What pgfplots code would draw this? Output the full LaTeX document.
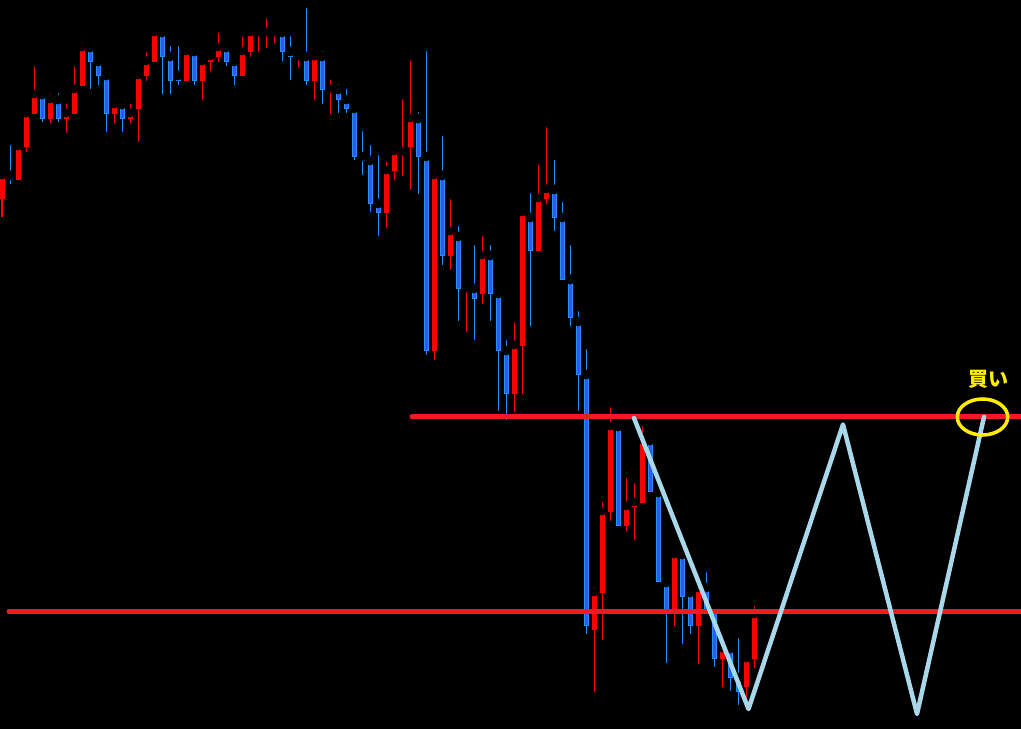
\documentclass[border=0pt]{standalone}
\usepackage{pgfplots}
\usepackage{pgfplotstable}
\pgfplotsset{compat=1.18}
\usepackage{fontspec}
\newfontfamily\cjk{Noto Sans CJK JP}
\definecolor{cred}{RGB}{255,0,0}
\definecolor{cblueb}{RGB}{30,144,255}
\definecolor{cbluef}{RGB}{64,80,255}
\definecolor{lred}{RGB}{237,28,36}
\definecolor{lblue}{RGB}{168,216,234}
\definecolor{cyel}{RGB}{255,238,0}
\pgfplotstableread{
x hi lo top bot
2 175 217 175 199
18 142 180 146 180
26 113 152 113 147
34 62 114 94 114
50 90 123 99 119
66 100 133 113 119
74 62 114 89 114
82 38 86 47 86
114 100 123 104 114
130 100 123 113 119
138 67 142 75 109
146 48 81 61 76
154 29 62 32 62
186 48 81 51 81
202 61 100 61 81
210 52 71 56 62
218 29 62 47 57
242 33 76 51 76
250 29 57 32 52
258 24 52 32 33
266 14 48 32 33
274 29 43 32 33
298 52 67 56 57
314 56 100 56 81
330 76 114 89 90
386 157 228 170 213
394 142 180 151 171
402 95 176 151 152
410 57 190 118 147
434 166 360 175 351
450 195 270 231 256
466 280 332 288 289
482 232 304 255 294
514 318 412 345 394
522 209 394 212 346
538 161 251 198 251
546 123 204 189 199
594 583 692 592 630
602 498 640 511 593
610 403 521 426 512
626 474 531 506 526
634 479 540 502 507
642 422 503 440 503
674 550 626 554 610
698 587 664 588 626
722 648 687 648 659
746 649 700 658 687
754 602 668 614 659
}\redtab
\pgfplotstableread{
x hi lo top bot
10 141 184 175 180
42 94 122 94 119
58 89 122 99 119
90 42 89 47 62
98 61 85 61 76
106 75 132 75 114
122 99 132 104 119
162 32 94 32 57
170 42 94 56 81
178 42 85 75 81
194 51 85 51 81
226 42 66 47 62
234 61 85 61 76
282 32 61 32 52
290 32 80 51 57
306 4 85 56 81
322 47 104 56 90
338 80 113 89 100
346 85 113 99 109
354 104 160 108 157
362 127 175 156 161
370 141 212 160 204
378 151 236 203 213
418 108 194 118 157
426 47 355 156 351
442 132 265 175 256
458 222 321 236 289
474 241 340 288 299
490 241 321 255 294
498 293 411 293 351
506 336 420 350 394
530 189 326 217 251
554 156 231 189 218
562 198 280 217 280
570 241 326 279 318
578 307 411 321 375
586 345 634 374 626
618 426 526 426 526
650 440 492 440 492
658 492 582 492 582
666 582 663 582 612
682 550 644 554 597
690 587 634 592 626
706 568 610 587 610
714 606 667 606 659
730 648 691 648 678
738 634 705 677 692
}\bluetab
\begin{document}
\begin{tikzpicture}
\begin{axis}[x=0.5pt, y=0.5pt, y dir=reverse,
  xmin=0, xmax=1021, ymin=0, ymax=728,
  hide axis, clip=true, set layers=standard]
\fill[black] (axis cs:-5,-5) rectangle (axis cs:1026,733);
% wicks
\addplot[only marks, mark=none, error bars/.cd, y dir=plus, y explicit,
  error mark=none, error bar style={line width=0.5pt, color=cred}]
  table[x=x, y=hi, y error plus expr={\thisrow{lo}-\thisrow{hi}}, y error minus expr=0] {\redtab};
\addplot[only marks, mark=none, error bars/.cd, y dir=plus, y explicit,
  error mark=none, error bar style={line width=0.5pt, color=cblueb}]
  table[x=x, y=hi, y error plus expr={\thisrow{lo}-\thisrow{hi}}, y error minus expr=0] {\bluetab};
% bodies
\addplot[only marks, mark=none, error bars/.cd, y dir=plus, y explicit,
  error mark=none, error bar style={line width=2.5pt, color=cred}]
  table[x=x, y=top, y error plus expr={\thisrow{bot}-\thisrow{top}}, y error minus expr=0] {\redtab};
\addplot[only marks, mark=none, error bars/.cd, y dir=plus, y explicit,
  error mark=none, error bar style={line width=2.5pt, color=cblueb}]
  table[x=x, y=top, y error plus expr={\thisrow{bot}-\thisrow{top}}, y error minus expr=0] {\bluetab};
\addplot[only marks, mark=none, error bars/.cd, y dir=plus, y explicit,
  error mark=none, error bar style={line width=1.5pt, color=cbluef}]
  table[x=x, y expr={\thisrow{top}+1}, y error plus expr={\thisrow{bot}-\thisrow{top}-2}, y error minus expr=0] {\bluetab};
% horizontal lines
\addplot[on layer=axis foreground, lred, line width=2.5pt, line cap=round] coordinates {(412,416.5) (1025,416.5)};
\addplot[on layer=axis foreground, lred, line width=2.5pt, line cap=round] coordinates {(9,611.5) (1025,611.5)};
% zigzag
\addplot[on layer=axis foreground, lblue, line width=2.25pt, line join=round, line cap=round] coordinates {(634,418) (748.5,709) (843,424.5) (917,714) (984,417)};
\begin{pgfonlayer}{axis foreground}
\draw[cyel, line width=1.75pt] (axis cs:982.5,417) ellipse [x radius=12.6pt, y radius=9pt];
\node[text=cyel, font=\cjk\bfseries\fontsize{10}{12}\selectfont] at (axis cs:988,379) {買い};
\end{pgfonlayer}
\end{axis}
\pgfresetboundingbox
\useasboundingbox (current axis.south west) rectangle (current axis.north east);
\end{tikzpicture}
\end{document}
